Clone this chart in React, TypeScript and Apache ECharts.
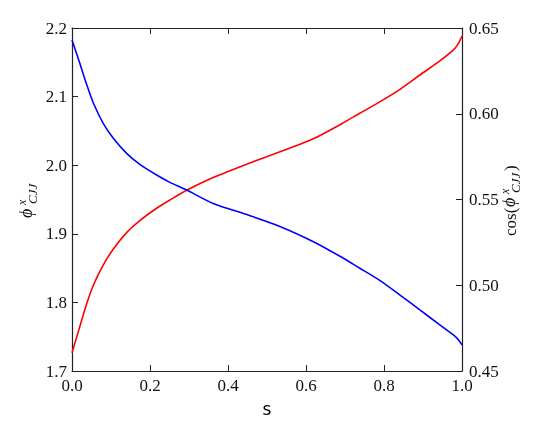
import React, { useEffect, useRef } from "react";
import * as echarts from "echarts";

// x positions (s) where the curves were read
const sValues = [0, 0.02, 0.038, 0.055, 0.08, 0.106, 0.14, 0.174, 0.217, 0.251, 0.294, 0.362, 0.448, 0.533, 0.619, 0.687, 0.738, 0.79, 0.841, 0.892, 0.944, 0.978, 0.991, 1.0];
// phi^x_CJJ (left axis, red)
const phiValues = [1.7267, 1.7646, 1.7987, 1.8254, 1.8545, 1.8778, 1.9017, 1.9192, 1.9372, 1.9493, 1.9635, 1.982, 2.0015, 2.0195, 2.0385, 2.059, 2.0757, 2.0926, 2.1106, 2.1315, 2.1524, 2.168, 2.1777, 2.1883];
// cos(phi^x_CJJ) (right axis, blue)
const cosValues = [0.643, 0.6294, 0.6168, 0.6061, 0.5944, 0.5857, 0.5769, 0.5705, 0.5643, 0.56, 0.5555, 0.5477, 0.5412, 0.5343, 0.5254, 0.5169, 0.5099, 0.5027, 0.4943, 0.4856, 0.4768, 0.471, 0.4681, 0.4652];

const xTicks = { min: 0, max: 1, interval: 0.2 };
const leftTicks = { min: 1.7, max: 2.2, interval: 0.1 };
const rightTicks = { min: 0.45, max: 0.65, interval: 0.05 };

const SERIF = "'Liberation Serif', 'DejaVu Serif', serif";
const SANS = "'DejaVu Sans', sans-serif";
const AX = "#222";

export default function App() {
  const ref = useRef<HTMLDivElement>(null);
  useEffect(() => {
    if (!ref.current) return;
    const chart = echarts.init(ref.current, undefined, { renderer: "svg" });
    const tickStyle = { show: true, inside: true, length: 6, lineStyle: { color: AX, width: 1 } };
    const lineStyle = { show: true, onZero: false, lineStyle: { color: AX, width: 1.2 } };
    const labelBase = { fontFamily: SERIF, fontSize: 17, color: "#111" };
    chart.setOption({
      animation: false,
      grid: { left: 72, right: 83, top: 28, bottom: 68 },
      xAxis: [
        {
          type: "value",
          position: "bottom",
          ...xTicks,
          axisLine: lineStyle,
          axisTick: tickStyle,
          splitLine: { show: false },
          axisLabel: { ...labelBase, margin: 6, formatter: (v: number) => v.toFixed(1) },
          name: "s",
          nameLocation: "middle",
          nameGap: 29,
          nameTextStyle: { fontFamily: SANS, fontSize: 17, color: "#000" },
        },
        {
          type: "value",
          position: "top",
          ...xTicks,
          axisLine: lineStyle,
          axisTick: tickStyle,
          splitLine: { show: false },
          axisLabel: { show: false },
        },
      ],
      yAxis: [
        {
          type: "value",
          position: "left",
          ...leftTicks,
          axisLine: lineStyle,
          axisTick: tickStyle,
          splitLine: { show: false },
          axisLabel: { ...labelBase, margin: 5, formatter: (v: number) => v.toFixed(1) },
        },
        {
          type: "value",
          position: "right",
          ...rightTicks,
          axisLine: lineStyle,
          axisTick: tickStyle,
          splitLine: { show: false },
          axisLabel: { ...labelBase, margin: 7, formatter: (v: number) => v.toFixed(2) },
        },
      ],
      series: [
        {
          type: "line",
          name: "phi",
          xAxisIndex: 0,
          yAxisIndex: 0,
          data: sValues.map((s, i) => [s, phiValues[i]]),
          showSymbol: false,
          symbol: "none",
          smooth: 0.25,
          lineStyle: { color: "#ff0000", width: 1.6 },
        },
        {
          type: "line",
          name: "cos",
          xAxisIndex: 0,
          yAxisIndex: 1,
          data: sValues.map((s, i) => [s, cosValues[i]]),
          showSymbol: false,
          symbol: "none",
          smooth: 0.25,
          lineStyle: { color: "#0000ff", width: 1.6 },
        },
      ],
      graphic: [
        {
          type: "group",
          x: 28,
          y: 197,
          rotation: Math.PI / 2,
          children: [
            { type: "text", x: -21, y: -2, style: { text: "ϕ", font: `italic 18px ${SERIF}`, fill: "#111", align: "left", verticalAlign: "middle" } },
            { type: "text", x: -8, y: -6, style: { text: "x", font: `italic 12px ${SERIF}`, fill: "#111", align: "left", verticalAlign: "middle" } },
            { type: "text", x: -7, y: 4, style: { text: "CJJ", font: `italic 13px ${SERIF}`, fill: "#111", align: "left", verticalAlign: "middle" } },
          ],
        },
        {
          type: "group",
          x: 509,
          y: 200,
          rotation: Math.PI / 2,
          children: [
            { type: "text", x: -36, y: 1, style: { text: "cos(", font: `17px ${SERIF}`, fill: "#111", align: "left", verticalAlign: "middle" } },
            { type: "text", x: -7, y: 0, style: { text: "ϕ", font: `italic 18px ${SERIF}`, fill: "#111", align: "left", verticalAlign: "middle" } },
            { type: "text", x: 6, y: -4, style: { text: "x", font: `italic 12px ${SERIF}`, fill: "#111", align: "left", verticalAlign: "middle" } },
            { type: "text", x: 7, y: 6, style: { text: "CJJ", font: `italic 13px ${SERIF}`, fill: "#111", align: "left", verticalAlign: "middle" } },
            { type: "text", x: 29, y: 1, style: { text: ")", font: `17px ${SERIF}`, fill: "#111", align: "left", verticalAlign: "middle" } },
          ],
        },
      ],
    });
    return () => chart.dispose();
  }, []);
  return <div ref={ref} style={{ position: "fixed", left: 0, top: 0, width: 545, height: 439 }} />;
}
